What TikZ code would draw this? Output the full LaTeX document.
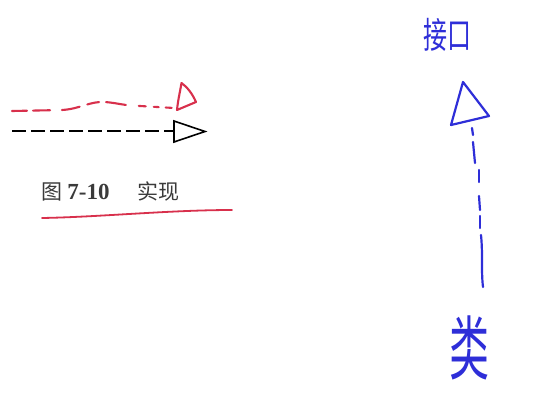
\documentclass[tikz,border=0pt]{standalone}
\usepackage{fontspec}
\newfontfamily\cjk{Noto Sans CJK SC}
\newfontfamily\capnum{Liberation Serif}
\definecolor{penred}{HTML}{D8304C}
\definecolor{penblue}{HTML}{2E2ED8}
\definecolor{captgray}{HTML}{3A3A3A}
\begin{document}
\begin{tikzpicture}[x=1pt,y=-1pt,
  blackline/.style={line width=1.6pt, black, dash pattern=on 14pt off 5pt},
  blackhead/.style={line width=1.6pt, black, line join=miter},
  redpen/.style={line width=2.1pt, penred, line cap=round, line join=round},
  bluepen/.style={line width=2.2pt, penblue, line cap=round, line join=round},
  hand/.style={penblue, inner sep=0pt, font=\cjk}]
\useasboundingbox (0,0) rectangle (558,402);
\fill[white] (0,0) rectangle (558,402);

% black realization arrow
\coordinate (bs) at (12,131);
\coordinate (be) at (174,131);
\draw[blackline] (bs) -- (be);
\draw[blackhead] (174,121) -- (205,131.5) -- (174,142) -- cycle;

% red hand-drawn copy
\coordinate (rs) at (12,111);
\coordinate (re) at (174,108);
\draw[redpen, dash pattern=on 15pt off 6pt on 17pt off 12pt on 18pt off 8pt on 12pt off 7pt on 20pt off 13pt on 7pt off 8pt on 5pt off 7pt on 6pt off 20pt]
  (rs) -- (62,110) .. controls (80,109) and (90,101) .. (105,102) .. controls (118,103) and (126,106) .. (140,106) -- (re);
\draw[redpen] (181.5,83) .. controls (180,92) and (178,100) .. (177,110) -- (196,102) .. controls (192,93) and (187,87) .. cycle;

% caption
\node[anchor=base west, text=captgray, font=\cjk\fontsize{21}{21}\selectfont, inner sep=0pt] (cap) at (41,199)
  {图\hspace{0.25em}{\capnum\bfseries\fontsize{23}{23}\selectfont 7-10}\hspace{1.35em}实现};
\coordinate (us) at (42,218);
\coordinate (ue) at (232,210);
\draw[redpen, line width=1.8pt] (us) .. controls (100,217) and (170,210) .. (ue);

% blue hand-drawn interface arrow
\node[hand, font=\cjk\fontsize{24}{24}\selectfont, yscale=1.5] (iface) at (447,35) {接口};
\draw[bluepen] (463,82) -- (451,125) -- (489,116) -- cycle;
\draw[bluepen] (472,128) -- (473,135);
\draw[bluepen] (473,142) -- (475,163);
\draw[bluepen] (479,170) -- (479,182);
\draw[bluepen] (479,196) -- (480,210);
\draw[bluepen] (480,216) -- (480,228);
\draw[bluepen] (481,235) .. controls (483,255) and (481,270) .. (483,287);
\node[hand, font=\cjk\fontsize{40}{40}\selectfont, yscale=1.75] (cls) at (469,348) {类};
\end{tikzpicture}
\end{document}
